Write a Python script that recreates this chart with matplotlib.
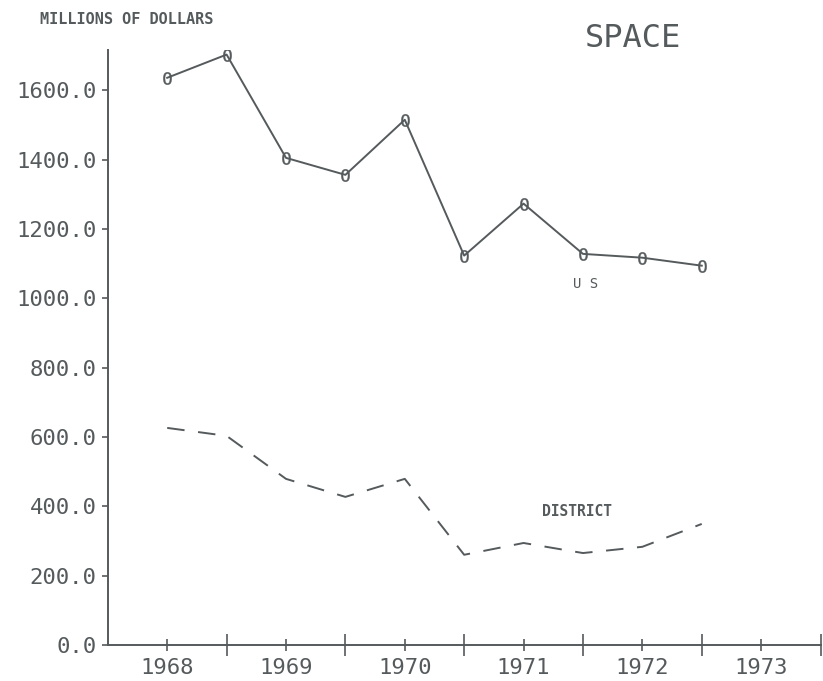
import numpy as np
import matplotlib.pyplot as plt

# semi-annual positions, year labels sit at the first half
periods = [1968.0, 1968.5, 1969.0, 1969.5, 1970.0, 1970.5, 1971.0, 1971.5, 1972.0, 1972.5]
us = [1636, 1703, 1405, 1356, 1515, 1123, 1273, 1128, 1117, 1094]
district = [626, 603, 479, 427, 479, 260, 294, 265, 283, 349]

year_labels = ['1968', '1969', '1970', '1971', '1972', '1973']
y_ticks = [0, 200, 400, 600, 800, 1000, 1200, 1400, 1600]

ink = '#555a5c'
plt.rcParams['font.family'] = ['DejaVu Sans Mono']

fig = plt.figure(figsize=(8.23, 6.81), dpi=100)
ax = fig.add_axes([0.131, 0.053, 0.866, 0.874])

ax.plot(periods, us, color=ink, lw=1.4, marker='$0$', markersize=9,
        markeredgewidth=0.3, markerfacecolor=ink, markeredgecolor=ink)
ax.plot(periods, district, color=ink, lw=1.4, dashes=(9, 7))

ax.text(1971.52, 1040, 'U S', fontsize=10, color=ink, ha='center', va='center')
ax.text(1971.45, 384, 'DISTRICT', fontsize=10.5, color=ink, ha='center', va='center',
        fontweight='bold')

ax.set_xlim(1967.5, 1973.5)
ax.set_ylim(0, 1717)

ax.set_xticks(np.arange(1968.5, 1973.6, 1.0))
ax.set_xticklabels([])
ax.set_xticks(np.arange(1968.0, 1973.1, 1.0), minor=True)
ax.set_xticklabels(year_labels, minor=True)
ax.tick_params(axis='x', which='major', direction='inout', length=16, width=1.2, color=ink)
ax.tick_params(axis='x', which='minor', direction='inout', length=9, width=1.2, color=ink,
               labelsize=16, labelcolor=ink, pad=5)

ax.set_yticks(y_ticks)
ax.set_yticklabels(['%.1f' % v for v in y_ticks])
ax.tick_params(axis='y', direction='out', length=4, width=1.2, color=ink,
               labelsize=16, labelcolor=ink, pad=4)

for s in ['top', 'right']:
    ax.spines[s].set_visible(False)
for s in ['left', 'bottom']:
    ax.spines[s].set_color(ink)
    ax.spines[s].set_linewidth(1.4)

fig.text(0.048, 0.972, 'MILLIONS OF DOLLARS', fontsize=11, color=ink, fontweight='bold',
         va='center')
fig.text(0.769, 0.944, 'SPACE', fontsize=23, color=ink, ha='center', va='center')

fig.savefig('out.png', dpi=100, facecolor='white')
